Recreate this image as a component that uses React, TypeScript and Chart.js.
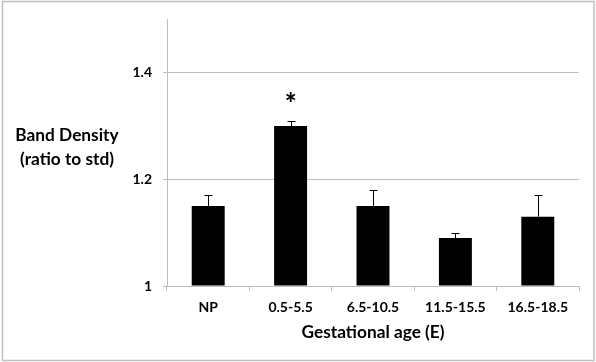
import React, { useEffect, useRef } from "react";
import { Chart, registerables } from "chart.js";

Chart.register(...registerables);

const categories = ["NP", "0.5-5.5", "6.5-10.5", "11.5-15.5", "16.5-18.5"];
const values = [1.15, 1.3, 1.15, 1.09, 1.13];
const errors = [0.02, 0.01, 0.03, 0.01, 0.04];
const significance = ["", "*", "", "", ""];
const yMin = 1;
const yMax = 1.5;
const yStep = 0.2;
const yTitleLines = ["Band Density", "(ratio to std)"];
const xTitle = "Gestational age (E)";

const FONT = "Lato, 'Open Sans', sans-serif";
const GRID = "#bdbdbd";

export default function App() {
  const ref = useRef<HTMLCanvasElement | null>(null);

  useEffect(() => {
    if (!ref.current) return;
    const extras = {
      id: "extras",
      beforeDraw(chart: any) {
        const ctx = chart.ctx;
        ctx.save();
        ctx.fillStyle = "#ffffff";
        ctx.fillRect(0, 0, chart.width, chart.height);
        ctx.strokeStyle = "#bfbfbf";
        ctx.lineWidth = 1.5;
        ctx.strokeRect(2.5, 1.5, chart.width - 4.5, chart.height - 3);
        ctx.restore();
      },
      afterDatasetsDraw(chart: any) {
        const ctx = chart.ctx;
        const meta = chart.getDatasetMeta(0);
        const y = chart.scales.y;
        ctx.save();
        ctx.strokeStyle = "#000";
        ctx.lineWidth = 1;
        meta.data.forEach((bar: any, i: number) => {
          const x = Math.round(bar.x) + 0.5;
          const yTop = y.getPixelForValue(values[i] + errors[i]);
          const yVal = y.getPixelForValue(values[i]);
          ctx.beginPath();
          ctx.moveTo(x, yVal);
          ctx.lineTo(x, Math.round(yTop) + 0.5);
          ctx.moveTo(x - 4, Math.round(yTop) + 0.5);
          ctx.lineTo(x + 4, Math.round(yTop) + 0.5);
          ctx.stroke();
          if (significance[i]) {
            ctx.fillStyle = "#000";
            ctx.font = `900 28px ${FONT}`;
            ctx.textAlign = "center";
            ctx.textBaseline = "middle";
            ctx.fillText(significance[i], bar.x, yTop - 17);
          }
        });
        ctx.fillStyle = "#000";
        ctx.font = `bold 17.3px ${FONT}`;
        ctx.textAlign = "center";
        ctx.textBaseline = "middle";
        ctx.fillText(yTitleLines[0], 67, 135);
        ctx.fillText(yTitleLines[1], 67, 159);
        ctx.restore();
      },
    };

    const chart = new Chart(ref.current, {
      type: "bar",
      data: {
        labels: categories,
        datasets: [
          {
            data: values,
            backgroundColor: "#000000",
            borderWidth: 0,
            base: yMin,
            barPercentage: 0.4,
            categoryPercentage: 1,
          } as any,
        ],
      },
      options: {
        animation: false,
        responsive: false,
        layout: { padding: { left: 0, top: 18, right: 17, bottom: 0 } },
        plugins: { legend: { display: false }, tooltip: { enabled: false } },
        scales: {
          x: {
            afterFit: (s: any) => {
              s.height = 76;
            },
            grid: {
              display: true,
              drawOnChartArea: false,
              drawTicks: true,
              tickLength: 5,
              color: GRID,
              offset: true,
            },
            border: { display: true, color: GRID, width: 1 },
            ticks: {
              color: "#000",
              padding: 8,
              font: { family: FONT, size: 14, weight: "bold" },
              maxRotation: 0,
            },
            title: {
              display: true,
              text: xTitle,
              color: "#000",
              font: { family: FONT, size: 17.3, weight: "bold" },
              padding: { top: 4, bottom: 19 },
            },
          },
          y: {
            min: yMin,
            max: yMax,
            afterFit: (s: any) => {
              s.width = 167;
            },
            grid: { color: GRID, drawTicks: true, tickLength: 4 },
            border: { display: true, color: GRID, width: 1 },
            ticks: {
              stepSize: yStep,
              includeBounds: false,
              color: "#000",
              padding: 11,
              font: { family: FONT, size: 14, weight: "bold" },
              callback: (v: any) => String(+Number(v).toFixed(1)),
            },
          },
        },
      },
      plugins: [extras],
    });
    return () => chart.destroy();
  }, []);

  return (
    <div style={{ position: "fixed", left: 0, top: 0, width: 596, height: 362 }}>
      <canvas ref={ref} width={596} height={362} style={{ width: 596, height: 362 }} />
    </div>
  );
}
